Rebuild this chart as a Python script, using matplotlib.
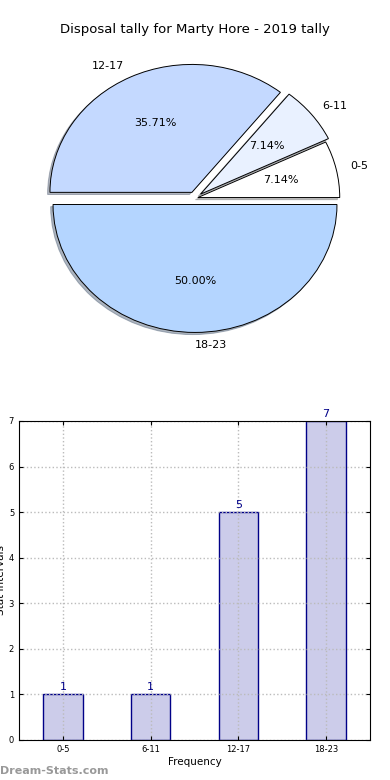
import numpy as np
import matplotlib
matplotlib.use('Agg')
import matplotlib.pyplot as plt

# data
labels = ['0-5', '6-11', '12-17', '18-23']
counts = [1, 1, 5, 7]
pie_colors = ['#ffffff', '#e9f1ff', '#c4d9ff', '#b4d5ff']
explode = [0.02, 0.05, 0.05, 0.05]

fig = plt.figure(figsize=(3.9, 7.8), dpi=100)
fig.patch.set_facecolor('white')

# pie on top
ax1 = fig.add_axes([0.045, 0.541, 0.91, 0.41])
wedges, texts, autotexts = ax1.pie(counts, labels=labels, colors=pie_colors,
                                   explode=explode, autopct='%.2f%%',
                                   shadow={'ox': -0.012, 'oy': -0.012, 'shade': 0.5},
                                   startangle=0,
                                   labeldistance=1.1, pctdistance=0.6,
                                   wedgeprops={'edgecolor': 'black', 'linewidth': 0.7},
                                   textprops={'fontsize': 8})
ax1.set_aspect('auto')
ax1.set_xlim(-1.25, 1.25)
ax1.set_ylim(-1.25, 1.25)
fig.text(0.5, 0.962, 'Disposal tally for Marty Hore - 2019 tally',
         ha='center', va='center', fontsize=9.5)

# bars below
ax2 = fig.add_axes([0.0487, 0.0513, 0.9, 0.409])
x = np.arange(len(labels))
ax2.bar(x, counts, width=0.45, color='#ccccea', edgecolor='#000088', linewidth=1)
for xi, c in zip(x, counts):
    ax2.text(xi, c + 0.05, str(c), ha='center', va='bottom', color='#000088', fontsize=8)
ax2.set_xlim(-0.5, 3.5)
ax2.set_ylim(0, 7)
ax2.set_xticks(x)
ax2.set_xticklabels(labels)
ax2.set_yticks(range(0, 8))
ax2.tick_params(labelsize=6, direction='in', length=3, top=True, right=True)
ax2.grid(True, linestyle=':', color='#bbbbbb', linewidth=1)
ax2.set_axisbelow(False)
for sp in ax2.spines.values():
    sp.set_zorder(5)
ax2.set_xlabel('Frequency', fontsize=7.5, labelpad=2)
ax2.set_ylabel('Stat Intervals', fontsize=7.5, labelpad=2)

fig.text(0.0, 0.012, 'Dream-Stats.com', color='#999999', fontsize=8,
         fontweight='bold', ha='left', va='center')

fig.savefig('out.png', dpi=100)
